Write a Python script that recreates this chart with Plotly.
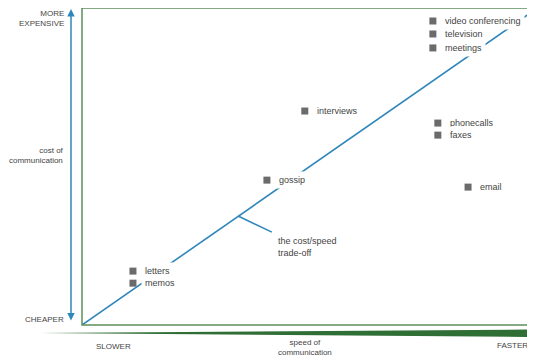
import plotly.graph_objects as go

# positions on a 0-100 speed / cost scale
items = ["video conferencing", "television", "meetings", "interviews", "phonecalls",
         "faxes", "email", "gossip", "letters", "memos"]
speed = [77.8, 77.8, 77.8, 49.4, 78.9, 78.9, 85.6, 41.0, 11.3, 11.3]
cost = [95.9, 91.8, 87.4, 67.5, 63.7, 59.9, 43.5, 45.7, 17.0, 13.2]

trend_speed = [0, 100.5]
trend_cost = [0, 99.5]
branch_speed = [34.6, 42.1]
branch_cost = [34.4, 29.3]
branch_label = "the cost/speed<br>trade-off"

BLUE = "#2f86bb"
GREEN = "#5b8f5b"
DARK_GREEN = "#2f6e35"
GREY = "#444444"
FONT = "Liberation Sans, Arial, sans-serif"

# the page body adds an 8px margin, so the figure is 8px smaller
OFFSET = 8
LEFT, RIGHT, TOP, BOTTOM = 82, 533, 8, 325   # plot box in page pixels


def px(x):
    return (x - LEFT) / (RIGHT - LEFT)


def py(y):
    return (BOTTOM - y) / (BOTTOM - TOP)


fig = go.Figure()

fig.add_trace(go.Scatter(
    x=trend_speed, y=trend_cost, mode="lines",
    line=dict(color=BLUE, width=1.6), hoverinfo="skip",
))
fig.add_trace(go.Scatter(
    x=branch_speed, y=branch_cost, mode="lines",
    line=dict(color=BLUE, width=1.6), hoverinfo="skip",
))
fig.add_trace(go.Scatter(
    x=speed, y=cost, mode="markers", text=items,
    marker=dict(symbol="square", size=7, color="#6b6b6b"),
    hoverinfo="text",
))

# item labels with white boxes so they cut the trend line
for name, sx, cy in zip(items, speed, cost):
    fig.add_annotation(
        x=sx, y=cy, xref="x", yref="y", text=name, showarrow=False,
        xanchor="left", yanchor="middle", xshift=8,
        bgcolor="white", borderpad=3,
        font=dict(family=FONT, size=9, color=GREY),
    )

fig.add_annotation(
    x=branch_speed[1], y=branch_cost[1], xref="x", yref="y", text=branch_label,
    showarrow=False, xanchor="left", yanchor="top", xshift=4, yshift=-2,
    align="left", font=dict(family=FONT, size=9, color=GREY),
)

# box
fig.add_shape(type="rect", xref="paper", yref="paper", x0=0, x1=1, y0=0, y1=1,
              line=dict(color=GREEN, width=1.5))
# speed wedge under the box
fig.add_shape(type="path", xref="paper", yref="paper",
              path=f"M {px(40)} {py(333)} L {px(540)} {py(329.5)} L {px(540)} {py(337)} Z",
              fillcolor=DARK_GREEN, line=dict(width=0))

# cost arrow
fig.add_annotation(
    x=px(71), y=py(8), xref="paper", yref="paper", text="",
    showarrow=True, ax=0, ay=314, arrowside="end+start",
    arrowhead=2, arrowsize=1, arrowwidth=1.5, arrowcolor=BLUE,
)

side_labels = [
    ("MORE<br>EXPENSIVE", 65.5, 18, "right"),
    ("cost of<br>communication", 65.5, 155, "right"),
    ("CHEAPER", 65.5, 319, "right"),
    ("SLOWER", 113, 346, "center"),
    ("speed of<br>communication", 305, 347, "center"),
    ("FASTER", 530, 345, "right"),
]
for text, x, y, anchor in side_labels:
    fig.add_annotation(
        x=px(x), y=py(y), xref="paper", yref="paper", text=text, showarrow=False,
        xanchor=anchor, yanchor="middle", align=anchor,
        font=dict(family=FONT, size=8, color=GREY),
    )

fig.update_xaxes(range=[0, 100], visible=False)
fig.update_yaxes(range=[0, 100], visible=False)
fig.update_layout(
    width=535 - OFFSET, height=357 - OFFSET,
    margin=dict(l=LEFT - OFFSET, r=535 - RIGHT, t=TOP - OFFSET, b=357 - BOTTOM),
    plot_bgcolor="white", paper_bgcolor="white",
    showlegend=False,
)

fig.write_html("out.html")
